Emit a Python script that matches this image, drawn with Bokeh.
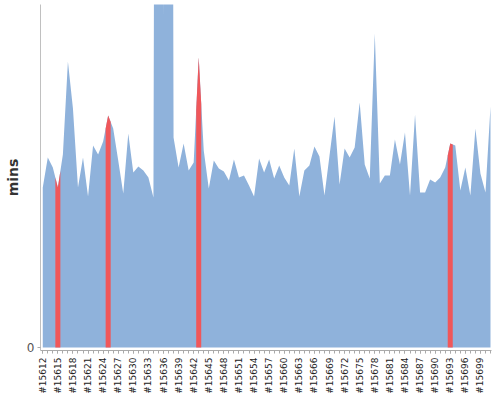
import math
from bokeh.plotting import figure
from bokeh.models import FixedTicker, Range1d
from bokeh.embed import file_html
from bokeh.resources import INLINE

# build numbers (categories)
builds = list(range(15612, 15702))

# build durations in minutes
durations = [
    16.0, 19.0, 18.0, 16.0, 19.3, 28.6, 23.9, 16.0, 19.0, 15.1,
    20.2, 19.3, 20.6, 23.2, 21.9, 18.7, 15.4, 21.4, 17.5, 18.1,
    17.7, 17.0, 15.0, 220.0, 32.9, 230.0, 21.0, 18.0, 20.4, 17.7,
    18.5, 29.0, 19.7, 15.9, 18.7, 17.9, 17.6, 16.7, 18.8, 17.0,
    17.2, 16.2, 15.1, 18.9, 17.5, 18.8, 16.9, 18.2, 17.0, 16.2,
    19.9, 15.1, 17.7, 18.2, 20.1, 19.1, 15.2, 19.2, 23.1, 16.3,
    19.9, 19.0, 20.0, 24.5, 18.3, 16.9, 31.4, 16.4, 17.2, 17.2,
    20.8, 18.3, 21.5, 15.2, 23.3, 15.5, 15.5, 16.8, 16.5, 17.0,
    18.0, 20.4, 20.2, 15.7, 18.0, 15.2, 21.9, 17.4, 15.5, 24.1,
]

# failed builds (drawn in red)
failed = [15615, 15625, 15643, 15693]

idx = list(range(len(builds)))
tick_idx = idx[::3]
tick_labels = {i: "#%d" % builds[i] for i in tick_idx}

p = figure(width=500, height=400, output_backend="svg", toolbar_location=None,
           x_range=Range1d(-0.45, 89.2), y_range=Range1d(-0.3, 34.3),
           min_border_left=40, min_border_right=9, min_border_top=4,
           min_border_bottom=50)
p.background_fill_color = "white"
p.border_fill_color = "white"
p.outline_line_color = None
p.xgrid.visible = False
p.ygrid.visible = False

BLUE = "#8fb2db"
RED = "#f0575a"

p.varea(x=idx, y1=0, y2=durations, fill_color=BLUE)

n = len(durations)
for b in failed:
    i = builds.index(b)
    prev_v = durations[max(i - 1, 0)]
    next_v = durations[min(i + 1, n - 1)]
    v = durations[i]
    xs = [i - 0.5, i, i + 0.5]
    ys = [(prev_v + v) / 2, v, (v + next_v) / 2]
    p.varea(x=xs, y1=0, y2=ys, fill_color=RED)

xa = p.xaxis[0]
xa.ticker = FixedTicker(ticks=tick_idx, minor_ticks=idx)
xa.major_label_overrides = tick_labels
xa.major_label_orientation = math.pi / 2
xa.major_label_text_font = "DejaVu Sans"
xa.major_label_text_font_size = "9px"
xa.major_label_text_color = "#222222"
xa.major_label_standoff = 4
xa.major_tick_out = 3
xa.major_tick_in = 0
xa.minor_tick_out = 3
xa.minor_tick_in = 0
xa.axis_line_color = "#aaaaaa"
xa.major_tick_line_color = "#aaaaaa"
xa.minor_tick_line_color = "#aaaaaa"

ya = p.yaxis[0]
ya.ticker = FixedTicker(ticks=[0])
ya.minor_tick_line_color = None
ya.major_tick_out = 3
ya.major_tick_in = 0
ya.major_tick_line_color = "#aaaaaa"
ya.axis_line_color = "#c0c0c0"
ya.major_label_text_font = "DejaVu Sans"
ya.major_label_text_font_size = "12px"
ya.major_label_text_color = "#555555"
ya.major_label_standoff = 3
ya.axis_label = "mins"
ya.axis_label_text_font = "DejaVu Sans"
ya.axis_label_text_font_size = "14px"
ya.axis_label_text_font_style = "bold"
ya.axis_label_text_color = "#333333"
ya.axis_label_standoff = 3

open("out.html", "w").write(file_html(p, INLINE))
